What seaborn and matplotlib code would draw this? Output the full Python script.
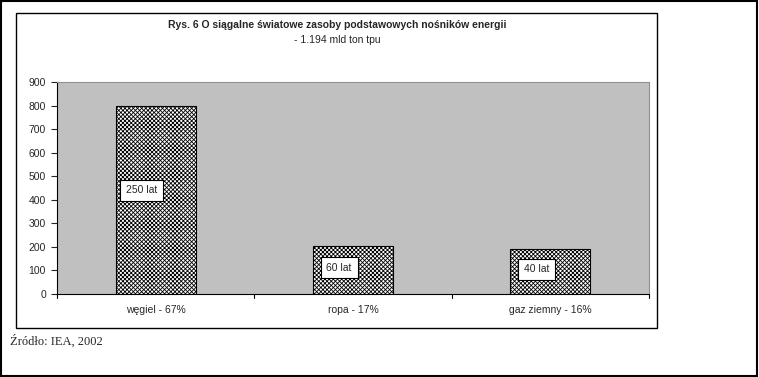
import numpy as np
import pandas as pd
import matplotlib
matplotlib.use("Agg")
import matplotlib.pyplot as plt
import seaborn as sns
from matplotlib.patches import Rectangle

categories = ["węgiel - 67%", "ropa - 17%", "gaz ziemny - 16%"]
values = [800, 203, 190]
years = ["250 lat", "60 lat", "40 lat"]
yticks = [0, 100, 200, 300, 400, 500, 600, 700, 800, 900]

sns.set_style("white")
plt.rcParams['font.family'] = ['Liberation Sans', 'DejaVu Sans']
plt.rcParams['hatch.linewidth'] = 0.6


def main():
    df = pd.DataFrame({"cat": categories, "val": values})
    fig = plt.figure(figsize=(7.59, 3.77), dpi=100)

    # outer frame and inner chart frame
    fig.patches.append(Rectangle((0.001, 0.003), 0.997, 0.995, transform=fig.transFigure,
                                 fill=False, edgecolor="black", linewidth=1.5))
    fig.patches.append(Rectangle((16 / 759, 1 - 328 / 377), (657 - 16) / 759, (328 - 13) / 377,
                                 transform=fig.transFigure, fill=False, edgecolor="black", linewidth=1))

    ax = fig.add_axes([57 / 759, 1 - 294 / 377, 592 / 759, 212 / 377])
    ax.set_facecolor("#c0c0c0")
    sns.barplot(data=df, x="cat", y="val", ax=ax, color="white", width=0.405,
                edgecolor="black", linewidth=0.8, saturation=1)
    for p in ax.patches:
        p.set_hatch("xxxxxxxx")

    for i, (v, t) in enumerate(zip(values, years)):
        ax.text(i - 0.07, v * 0.55, t, ha="center", va="center", fontsize=7.5,
                bbox=dict(boxstyle="square,pad=0.55", facecolor="white", edgecolor="black", linewidth=0.8))

    ax.set_xlim(-0.5, 2.5)
    ax.set_ylim(0, 900)
    ax.set_yticks(yticks)
    ax.set_yticklabels([str(t) for t in yticks], fontsize=7.5)
    ax.set_xticks(range(len(categories)))
    ax.set_xticklabels(categories, fontsize=7.5)
    ax.tick_params(axis="x", length=0, pad=8)
    ax.tick_params(axis="y", length=4, direction="out", left=True, width=0.8, pad=4)
    # category boundary ticks, Excel style
    for b in [-0.5, 0.5, 1.5, 2.5]:
        ax.plot([b, b], [0, -0.018], color="black", linewidth=0.8,
                transform=ax.get_xaxis_transform(), clip_on=False)
    ax.set_xlabel("")
    ax.set_ylabel("")
    for s in ["top", "right"]:
        ax.spines[s].set_color("#909090")
        ax.spines[s].set_linewidth(0.8)
    for s in ["left", "bottom"]:
        ax.spines[s].set_color("black")
        ax.spines[s].set_linewidth(0.8)

    fig.text(337 / 759, 1 - 25 / 377, "Rys. 6 O siągalne światowe zasoby podstawowych nośników energii",
             ha="center", va="center", fontsize=7.5, fontweight="bold")
    fig.text(337 / 759, 1 - 40 / 377, "- 1.194 mld ton tpu", ha="center", va="center", fontsize=7.5)
    fig.text(10 / 759, 1 - 341 / 377, "Źródło: IEA, 2002", ha="left", va="center", fontsize=9,
             family=["Liberation Serif", "DejaVu Serif"])

    plt.savefig("out.png", dpi=100)


if __name__ == "__main__":
    main()
